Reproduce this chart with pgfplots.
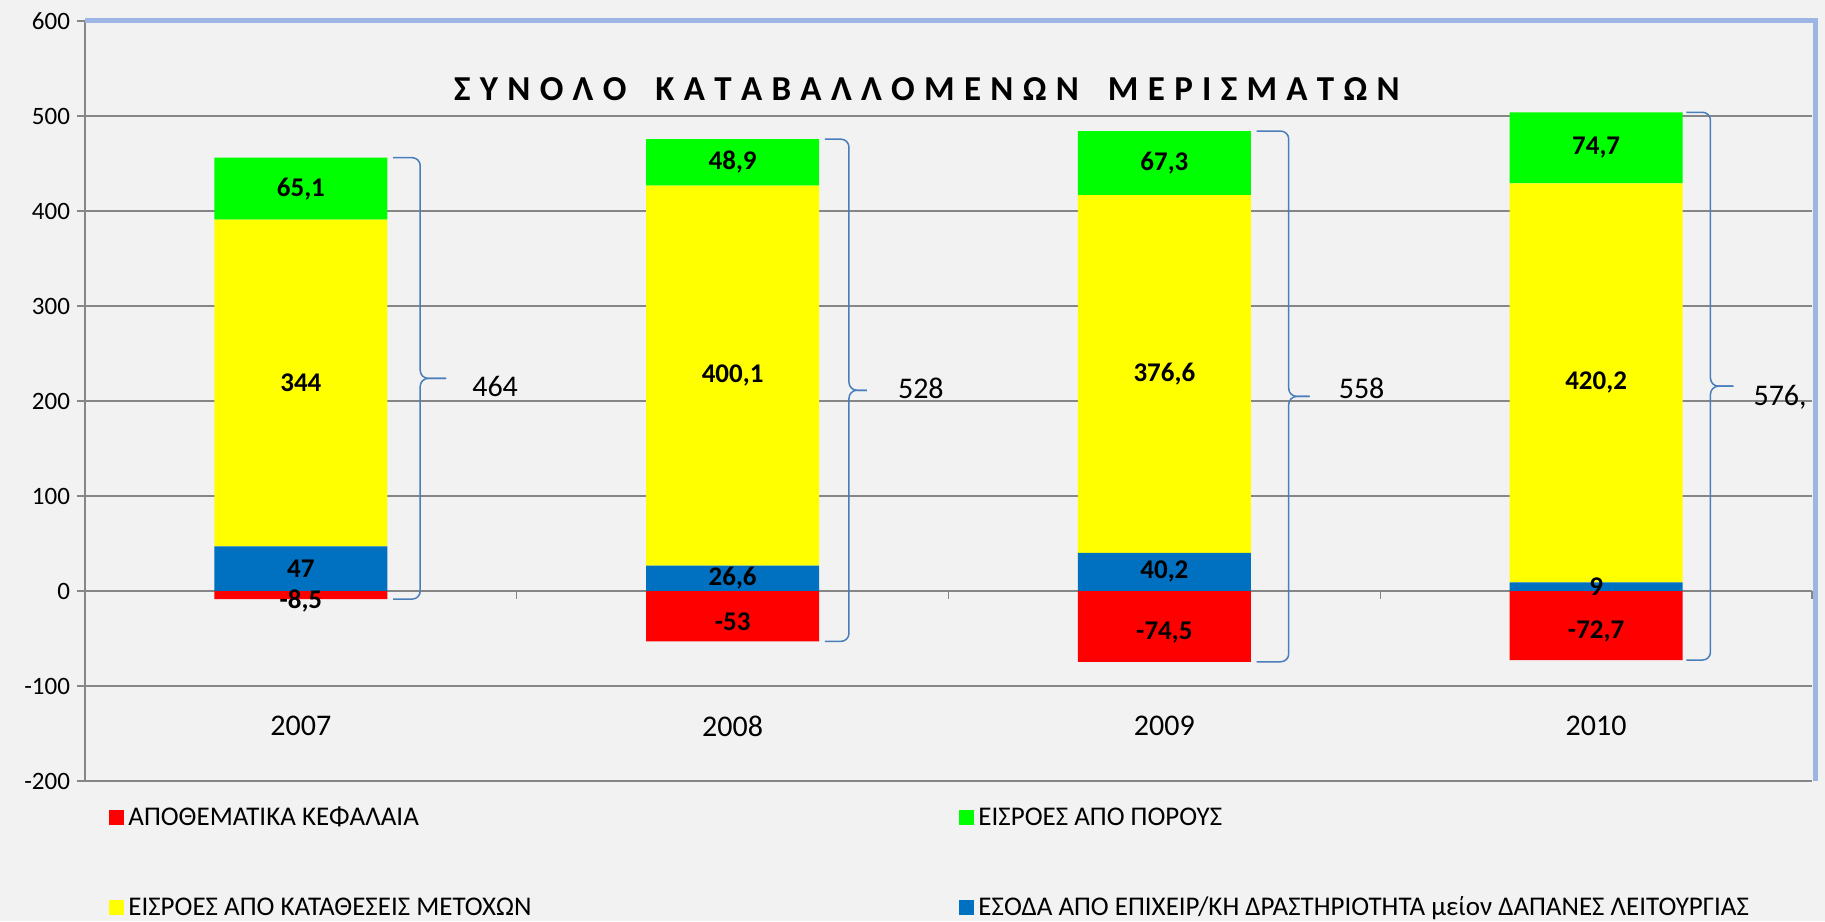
\documentclass[border=0pt]{standalone}
\usepackage{pgfplots}
\pgfplotsset{compat=1.18}
\usepackage{pgfplotstable}
\usepackage{fontspec}
\setmainfont{Carlito}

\definecolor{bgc}{HTML}{F2F2F2}
\definecolor{gridc}{HTML}{868686}
\definecolor{framec}{HTML}{9DB5E2}
\definecolor{bracec}{HTML}{4A7EBB}
\definecolor{cred}{HTML}{FF0000}
\definecolor{cgreen}{HTML}{00FF00}
\definecolor{cyellow}{HTML}{FFFF00}
\definecolor{cblue}{HTML}{0070C0}

\pgfplotstableread{
x neg blue yellow green
0 -8.5 47 344 65.1
1 -53 26.6 400.1 48.9
2 -74.5 40.2 376.6 67.3
3 -72.7 9 420.2 74.7
}\data

\pgfplotsset{
  common/.style={
    at={(42.5pt,70pt)}, anchor=south west,
    scale only axis, width=863.5pt, height=380pt,
    xmin=-0.5, xmax=3.5, ymin=-200, ymax=600,
    clip=false,
  },
  % labels for the (non-stacked) negative bars: moved to the middle of the bar
  centerlabels/.style={
    nodes near coords,
    point meta=rawy,
    visualization depends on={rawy \as \rawy},
    every node near coord/.style={font=\fontsize{13.5}{16}\selectfont\bfseries, anchor=center,
       shift={(axis direction cs:0,-\rawy/2)}, text=black, yshift=#1},
    /pgf/number format/.cd, use comma, fixed, 1000 sep={}, assume math mode=true,
  },
  centerlabels/.default=0pt,
  % labels for the stacked bars
  stacklabels/.style={
    nodes near coords,
    point meta=rawy,
    every node near coord/.style={font=\fontsize{13.5}{16}\selectfont\bfseries, anchor=center, text=black},
    /pgf/number format/.cd, use comma, fixed, 1000 sep={}, assume math mode=true,
  },
}

\begin{document}
\begin{tikzpicture}[x=1pt,y=1pt]
\fill[bgc] (0,0) rectangle (912.5,460.5);
\useasboundingbox (0,0) rectangle (912.5,460.5);

% Base axis: grid, ticks, title, legend, negative bars
\begin{axis}[
  common,
  axis x line*=bottom, axis y line*=left,
  axis line style={gridc, line width=0.7pt},
  ytick={-200,-100,...,600},
  ymajorgrids, grid style={gridc, line width=0.7pt},
  tick align=outside, major tick length=4pt,
  ytick style={gridc, line width=0.7pt},
  xtick={0,1,2,3}, xticklabels={2007,2008,2009,2010},
  xtick style={draw=none},
  xticklabel style={font=\fontsize{15}{18}\selectfont, anchor=center, yshift=31.5pt},
  yticklabel style={font=\fontsize{12.5}{15}\selectfont},
  /pgf/number format/assume math mode=true,
  title={Σ\hspace{4.65pt}Υ\hspace{4.65pt}Ν\hspace{4.65pt}Ο\hspace{4.65pt}Λ\hspace{4.65pt}Ο\hspace{14.5pt}Κ\hspace{4.65pt}Α\hspace{4.65pt}Τ\hspace{4.65pt}Α\hspace{4.65pt}Β\hspace{4.65pt}Α\hspace{4.65pt}Λ\hspace{4.65pt}Λ\hspace{4.65pt}Ο\hspace{4.65pt}Μ\hspace{4.65pt}Ε\hspace{4.65pt}Ν\hspace{4.65pt}Ω\hspace{4.65pt}Ν\hspace{14.5pt}Μ\hspace{4.65pt}Ε\hspace{4.65pt}Ρ\hspace{4.65pt}Ι\hspace{4.65pt}Σ\hspace{4.65pt}Μ\hspace{4.65pt}Α\hspace{4.65pt}Τ\hspace{4.65pt}Ω\hspace{4.65pt}Ν},
  title style={at={(0.4875,0.894)}, anchor=center, font=\fontsize{17.5}{20}\selectfont\bfseries},
  legend columns=2, legend cell align=left,
  legend image code/.code={\fill[#1] (0pt,-3.75pt) rectangle (7.5pt,3.75pt);},
  legend style={at={(0.0104,-0.0232)}, anchor=north west, draw=none, fill=none,
     font=\fontsize{13.5}{16}\selectfont, row sep=30pt,
     /tikz/column 2/.style={column sep=212pt}},
]
\addplot[ybar, bar width=86.5pt, bar shift=0pt, fill=cred, draw=none, forget plot]
  table[x=x, y=neg] {\data};
\addlegendimage{draw=none, fill=cred}\addlegendentry{ΑΠΟΘΕΜΑΤΙΚΑ ΚΕΦΑΛΑΙΑ}
\addlegendimage{draw=none, fill=cgreen}\addlegendentry{ΕΙΣΡΟΕΣ ΑΠΌ ΠΟΡΟΥΣ}
\addlegendimage{draw=none, fill=cyellow}\addlegendentry{ΕΙΣΡΟΕΣ ΑΠΌ ΚΑΤΑΘΕΣΕΙΣ ΜΕΤΟΧΩΝ}
\addlegendimage{draw=none, fill=cblue}\addlegendentry{ΈΣΟΔΑ ΑΠΌ ΕΠΙΧΕΙΡ/ΚΗ ΔΡΑΣΤΗΡΙΟΤΗΤΑ μείον ΔΑΠΑΝΕΣ ΛΕΙΤΟΥΡΓΙΑΣ}
\pgfplotsinvokeforeach{0.5,1.5,2.5,3.5}{
  \draw[gridc, line width=0.7pt] (axis cs:#1,0) -- ([yshift=-4pt]axis cs:#1,0);
}
\draw[framec, line width=2.5pt] ([yshift=0.5pt]rel axis cs:0,1) -- ([xshift=1.5pt,yshift=0.5pt]rel axis cs:1,1) -- ([xshift=1.5pt]rel axis cs:1,0);
\end{axis}

% Positive stacked bars
\begin{axis}[common, hide axis, ybar stacked, bar width=86.5pt]
\addplot[fill=cblue, draw=none, stacklabels] table[x=x, y=blue] {\data};
\addplot[fill=cyellow, draw=none, stacklabels] table[x=x, y=yellow] {\data};
\addplot[fill=cgreen, draw=none, stacklabels] table[x=x, y=green] {\data};
\end{axis}

% Labels of negative bars, braces and totals
\begin{axis}[common, hide axis]
\addplot[ybar, bar width=86.5pt, bar shift=0pt, draw=none, fill=none, centerlabels=-3pt]
  table[x=x, y=neg] {\data};
\tikzset{br/.style={bracec, line width=0.75pt, rounded corners=4pt},
         tot/.style={anchor=west, font=\fontsize{15}{18}\selectfont}}
% 2007
\draw[br] ([xshift=3pt]axis cs:0.2,456.1) -- ([xshift=16.5pt]axis cs:0.2,456.1) -- ([xshift=16.5pt]axis cs:0.2,223.8) -- ([xshift=29.5pt]axis cs:0.2,223.8);
\draw[br] ([xshift=29.5pt]axis cs:0.2,223.8) -- ([xshift=16.5pt]axis cs:0.2,223.8) -- ([xshift=16.5pt]axis cs:0.2,-8.5) -- ([xshift=3pt]axis cs:0.2,-8.5);
\node[tot] at ([xshift=39pt]axis cs:0.2,215) {464};
% 2008
\draw[br] ([xshift=3pt]axis cs:1.2,475.6) -- ([xshift=15pt]axis cs:1.2,475.6) -- ([xshift=15pt]axis cs:1.2,211.3) -- ([xshift=24pt]axis cs:1.2,211.3);
\draw[br] ([xshift=24pt]axis cs:1.2,211.3) -- ([xshift=15pt]axis cs:1.2,211.3) -- ([xshift=15pt]axis cs:1.2,-53) -- ([xshift=3pt]axis cs:1.2,-53);
\node[tot] at ([xshift=36pt]axis cs:1.2,213) {528};
% 2009
\draw[br] ([xshift=3pt]axis cs:2.2,484.1) -- ([xshift=19pt]axis cs:2.2,484.1) -- ([xshift=19pt]axis cs:2.2,204.8) -- ([xshift=29.5pt]axis cs:2.2,204.8);
\draw[br] ([xshift=29.5pt]axis cs:2.2,204.8) -- ([xshift=19pt]axis cs:2.2,204.8) -- ([xshift=19pt]axis cs:2.2,-74.5) -- ([xshift=3pt]axis cs:2.2,-74.5);
\node[tot] at ([xshift=40.5pt]axis cs:2.2,213) {558};
% 2010
\draw[br] ([xshift=2pt]axis cs:3.2,503.9) -- ([xshift=14pt]axis cs:3.2,503.9) -- ([xshift=14pt]axis cs:3.2,215.6) -- ([xshift=25.5pt]axis cs:3.2,215.6);
\draw[br] ([xshift=25.5pt]axis cs:3.2,215.6) -- ([xshift=14pt]axis cs:3.2,215.6) -- ([xshift=14pt]axis cs:3.2,-72.7) -- ([xshift=2pt]axis cs:3.2,-72.7);
\node[tot] at ([xshift=32pt]axis cs:3.2,204) {576,};
\end{axis}
\end{tikzpicture}
\end{document}
